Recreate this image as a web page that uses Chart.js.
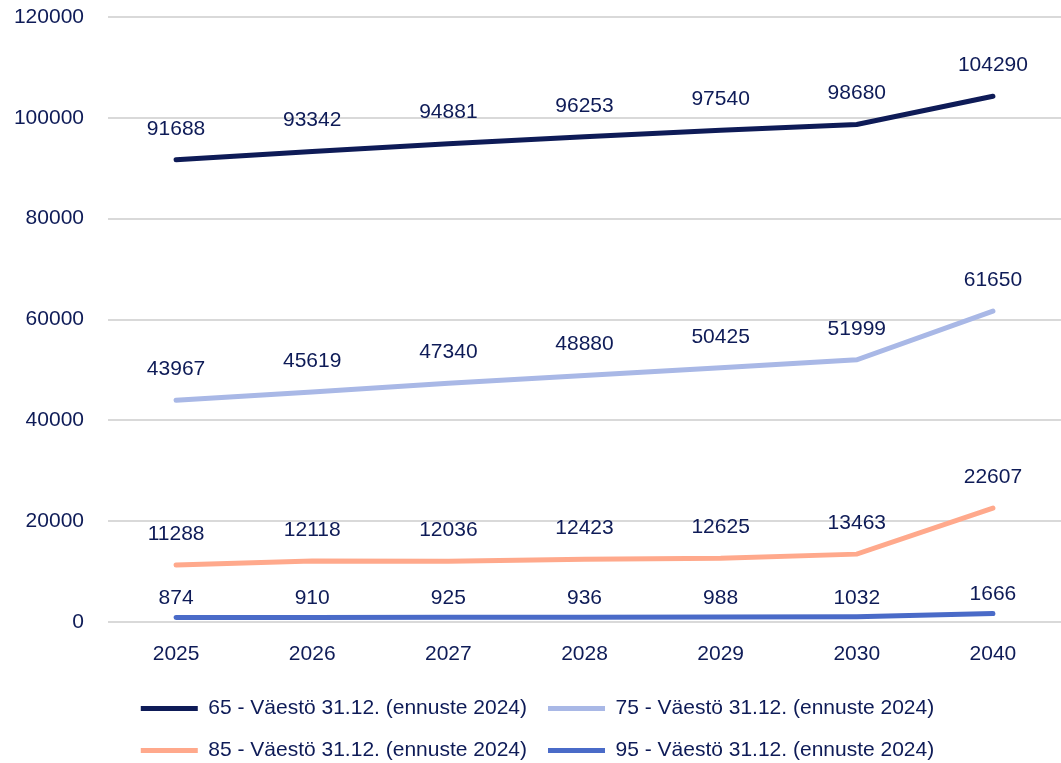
<!DOCTYPE html>
<html>
<head>
<meta charset="utf-8">
<script src="https://cdn.jsdelivr.net/npm/chart.js@4.4.0/dist/chart.umd.min.js"></script>
<style>
  html, body { margin: 0; padding: 0; background: #fff; }
  #wrap { width: 1061px; height: 763px; }
</style>
</head>
<body>
<div id="wrap"><canvas id="chart" width="1061" height="763"></canvas></div>
<script>
// data
const years = ['2025', '2026', '2027', '2028', '2029', '2030', '2040'];
const age65 = [91688, 93342, 94881, 96253, 97540, 98680, 104290];
const age75 = [43967, 45619, 47340, 48880, 50425, 51999, 61650];
const age85 = [11288, 12118, 12036, 12423, 12625, 13463, 22607];
const age95 = [874, 910, 925, 936, 988, 1032, 1666];
const seriesNames = [
    '65 - Väestö 31.12. (ennuste 2024)',
    '75 - Väestö 31.12. (ennuste 2024)',
    '85 - Väestö 31.12. (ennuste 2024)',
    '95 - Väestö 31.12. (ennuste 2024)'
];
const seriesColors = ['#0e1b57', '#a9b8e6', '#ffa98c', '#4a6bc8'];
const labelLift = [31, 31, 31, 19]; // px above the point, per series
const textColor = '#0e1b57';
const fontFam = '"Liberation Sans", Arial, sans-serif';

// labels above each point
const pointLabels = {
    id: 'pointLabels',
    afterDatasetsDraw(chart) {
        const ctx = chart.ctx;
        ctx.save();
        ctx.font = '21px ' + fontFam;
        ctx.fillStyle = textColor;
        ctx.textAlign = 'center';
        ctx.textBaseline = 'middle';
        chart.data.datasets.forEach(function(ds, i) {
            chart.getDatasetMeta(i).data.forEach(function(pt, j) {
                ctx.fillText(String(ds.data[j]), pt.x, pt.y - labelLift[i]);
            });
        });
        ctx.restore();
    }
};

const allSeries = [age65, age75, age85, age95];
const datasets = allSeries.map(function(vals, i) {
    return {
        label: seriesNames[i],
        data: vals,
        borderColor: seriesColors[i],
        backgroundColor: seriesColors[i],
        borderWidth: 5,
        borderCapStyle: 'round',
        pointRadius: 0,
        pointStyle: 'line',
        tension: 0
    };
});

new Chart(document.getElementById('chart').getContext('2d'), {
    type: 'line',
    data: { labels: years, datasets: datasets },
    plugins: [pointLabels],
    options: {
        responsive: false,
        animation: false,
        layout: { padding: { top: 17, left: 14, right: 0, bottom: -8 } },
        plugins: {
            tooltip: { enabled: false },
            legend: {
                position: 'bottom',
                labels: {
                    color: textColor,
                    font: { family: fontFam, size: 21 },
                    usePointStyle: true,
                    pointStyleWidth: 57,
                    boxHeight: 5,
                    padding: 21
                }
            }
        },
        scales: {
            x: {
                offset: true,
                grid: { display: false, drawTicks: false },
                border: { display: false },
                ticks: {
                    color: textColor,
                    font: { family: fontFam, size: 21 },
                    padding: 20
                },
                afterFit: function(scale) { scale.height = 55; }
            },
            y: {
                min: 0,
                max: 120000,
                grid: { color: '#d9d9d9', lineWidth: 2, drawTicks: false },
                border: { display: false },
                ticks: {
                    stepSize: 20000,
                    color: textColor,
                    font: { family: fontFam, size: 21 },
                    padding: 24,
                    callback: function(v) { return String(v); }
                },
                afterFit: function(scale) {
                    scale.paddingTop = 0;
                    scale.width = 94;
                }
            }
        }
    }
});
</script>
</body>
</html>
